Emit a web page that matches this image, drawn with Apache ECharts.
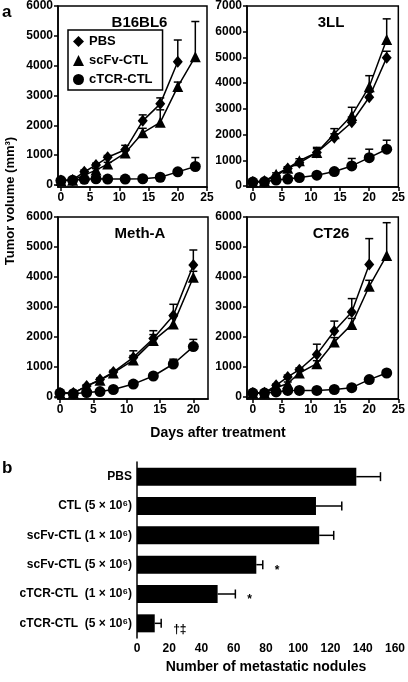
<!DOCTYPE html>
<html>
<head>
<meta charset="utf-8">
<script src="https://cdn.jsdelivr.net/npm/echarts@6/dist/echarts.min.js"></script>
<style>
html,body{margin:0;padding:0;background:#fff;}
#chart{width:408px;height:682px;}
</style>
</head>
<body>
<div id="chart"></div>
<script>
// ---------- DATA ----------
const days = [0, 2, 4, 6, 8, 11, 14, 17, 20, 23];
const seriesNames = ['PBS', 'scFv-CTL', 'cTCR-CTL'];
const panelTitles = ['B16BL6', '3LL', 'Meth-A', 'CT26'];

// B16BL6
const b16_pbs  = [150, 170, 440, 670, 930, 1180, 2150, 2720, 4130, null];
const b16_scfv = [150, 160, 330, 500, 700, 1070, 1750, 2100, 3300, 4300];
const b16_ctcr = [150, 160, 190, 210, 200, 200, 210, 260, 440, 620];
const b16_pbsErr  = [0, 20, 60, 60, 60, 150, 200, 200, 730, null];
const b16_scfvErr = [0, 20, 40, 50, 60, 100, 150, 420, 150, 1180];
const b16_ctcrErr = [0, 0, 20, 20, 20, 20, 30, 40, 60, 300];

// 3LL
const ll_pbs  = [150, 180, 390, 680, 900, 1300, 1880, 2480, 3450, 4990];
const ll_scfv = [150, 190, 460, 690, 980, 1300, 2030, 2740, 3860, 5700];
const ll_ctcr = [150, 160, 230, 270, 330, 420, 560, 780, 1100, 1430];
const ll_pbsErr  = [0, 20, 40, 60, 60, 150, 150, 200, 200, 250];
const ll_scfvErr = [0, 20, 50, 60, 80, 200, 200, 320, 430, 800];
const ll_ctcrErr = [0, 0, 30, 30, 40, 60, 80, 290, 330, 350];

// Meth-A (to day 20)
const meth_pbs  = [130, 130, 370, 580, 830, 1320, 1950, 2720, 4400, null];
const meth_scfv = [130, 130, 360, 560, 800, 1230, 1880, 2430, 3990, null];
const meth_ctcr = [130, 110, 150, 180, 250, 430, 700, 1100, 1680, null];
const meth_pbsErr  = [0, 20, 40, 50, 60, 220, 260, 370, 500, null];
const meth_scfvErr = [0, 20, 40, 50, 60, 150, 200, 250, 200, null];
const meth_ctcrErr = [0, 0, 20, 20, 30, 40, 50, 160, 240, null];

// CT26
const ct_pbs  = [130, 140, 390, 670, 910, 1420, 2200, 2830, 4420, null];
const ct_scfv = [130, 130, 310, 450, 800, 1110, 1830, 2420, 3690, 4720];
const ct_ctcr = [130, 130, 170, 220, 220, 220, 250, 310, 580, 800];
const ct_pbsErr  = [0, 20, 40, 60, 60, 340, 330, 450, 860, null];
const ct_scfvErr = [0, 20, 30, 50, 60, 100, 150, 200, 200, 1090];
const ct_ctcrErr = [0, 0, 20, 20, 20, 20, 30, 40, 60, 100];

// tick labels
const yTicks6000 = [0, 1000, 2000, 3000, 4000, 5000, 6000];
const yTicks7000 = [0, 1000, 2000, 3000, 4000, 5000, 6000, 7000];
const xTicks25 = [0, 5, 10, 15, 20, 25];
const xTicks20 = [0, 5, 10, 15, 20];

// Panel b
const barCats = ['PBS', 'CTL (5 \u00d7 10\u2076)', 'scFv-CTL (1 \u00d7 10\u2076)', 'scFv-CTL (5 \u00d7 10\u2076)', 'cTCR-CTL  (1 \u00d7 10\u2076)', 'cTCR-CTL  (5 \u00d7 10\u2076)'];
const barVals = [136, 111, 113, 74, 50, 11];
const barErr  = [15, 16, 9, 4, 11, 4];
const sigMarks = ['', '', '', '*', '*', '\u2020\u2021'];

// ---------- BUILD ----------
const FONT = "'Liberation Sans', Arial, Helvetica, sans-serif";
const BLACK = '#000';

function pairs(vals) {
  const out = [];
  days.forEach((d, i) => { if (vals[i] != null) out.push([d, vals[i]]); });
  return out;
}
function errTriples(vals, errs) {
  const out = [];
  days.forEach((d, i) => { if (vals[i] != null && errs[i]) out.push([d, vals[i], errs[i]]); });
  return out;
}

const panels = [
  {vals: [b16_pbs, b16_scfv, b16_ctcr], errs: [b16_pbsErr, b16_scfvErr, b16_ctcrErr]},
  {vals: [ll_pbs, ll_scfv, ll_ctcr], errs: [ll_pbsErr, ll_scfvErr, ll_ctcrErr]},
  {vals: [meth_pbs, meth_scfv, meth_ctcr], errs: [meth_pbsErr, meth_scfvErr, meth_ctcrErr]},
  {vals: [ct_pbs, ct_scfv, ct_ctcr], errs: [ct_pbsErr, ct_scfvErr, ct_ctcrErr]}
];

const gridLayout = [
  {left: 58, top: 6, width: 149, height: 181},
  {left: 247, top: 6, width: 154, height: 181},
  {left: 58, top: 217, width: 150, height: 182},
  {left: 247, top: 217, width: 154, height: 182}
];
const xRanges = [[-0.5, 25, xTicks25], [-1, 25, xTicks25], [-0.3, 22.2, xTicks20], [-1, 25, xTicks25]];
const yRanges = [[-67, 6000, yTicks6000], [-40, 7000, yTicks7000], [-67, 6000, yTicks6000], [-67, 6000, yTicks6000]];

const symbols = ['diamond', 'triangle', 'circle'];
const symSizes = [[10, 12], 11, 11];

const grids = [], xAxes = [], yAxes = [], series = [], titles = [];

const axisLabelStyle = {color: BLACK, fontFamily: FONT, fontWeight: 'bold', fontSize: 12, formatter: v => String(v)};

panels.forEach((p, k) => {
  grids.push(Object.assign({show: true, borderColor: BLACK, borderWidth: 1.5, backgroundColor: 'transparent'}, gridLayout[k]));
  xAxes.push({
    type: 'value', gridIndex: k, min: xRanges[k][0], max: xRanges[k][1],
    splitLine: {show: false},
    axisLine: {onZero: false, lineStyle: {color: BLACK, width: 1.5}},
    axisTick: {length: 4, lineStyle: {color: BLACK, width: 1.5}, customValues: xRanges[k][2]},
    axisLabel: Object.assign({margin: 5, customValues: xRanges[k][2]}, axisLabelStyle)
  });
  yAxes.push({
    type: 'value', gridIndex: k, min: yRanges[k][0], max: yRanges[k][1],
    splitLine: {show: false},
    axisLine: {onZero: false, lineStyle: {color: BLACK, width: 1.5}},
    axisTick: {length: 4, lineStyle: {color: BLACK, width: 1.5}, customValues: yRanges[k][2]},
    axisLabel: Object.assign({margin: 5, customValues: yRanges[k][2]}, axisLabelStyle)
  });
  titles.push({
    text: panelTitles[k],
    left: gridLayout[k].left + gridLayout[k].width / 2 + 2, top: gridLayout[k].top + 4,
    textAlign: 'center',
    textStyle: {fontFamily: FONT, fontWeight: 'bold', fontSize: 15, color: BLACK}
  });
  for (let s = 0; s < 3; s++) {
    series.push({
      type: 'line', name: seriesNames[s], xAxisIndex: k, yAxisIndex: k,
      data: pairs(p.vals[s]), symbol: symbols[s], symbolSize: symSizes[s],
      showAllSymbol: true, z: 3, color: BLACK,
      lineStyle: {color: BLACK, width: 1.5}, itemStyle: {color: BLACK, opacity: 1}
    });
    series.push({
      type: 'custom', xAxisIndex: k, yAxisIndex: k,
      data: errTriples(p.vals[s], p.errs[s]), z: 1, silent: true,
      encode: {x: 0, y: 1},
      renderItem: function (params, api) {
        const x = api.value(0), v = api.value(1), e = api.value(2);
        const a = api.coord([x, v]), b = api.coord([x, v + e]);
        const st = {stroke: BLACK, lineWidth: 1.5};
        return {type: 'group', children: [
          {type: 'line', shape: {x1: a[0], y1: a[1], x2: b[0], y2: b[1]}, style: st},
          {type: 'line', shape: {x1: b[0] - 4, y1: b[1], x2: b[0] + 4, y2: b[1]}, style: st}
        ]};
      }
    });
  }
});

// Panel b grid/axes
grids.push({left: 137, top: 462, width: 260, height: 176});
xAxes.push({
  type: 'value', gridIndex: 4, min: 0, max: 160, interval: 20,
  splitLine: {show: false},
  axisLine: {onZero: false, lineStyle: {color: BLACK, width: 1.5}},
  axisTick: {length: 4, lineStyle: {color: BLACK, width: 1.5}},
  axisLabel: Object.assign({margin: 5}, axisLabelStyle),
  name: 'Number of metastatic nodules', nameLocation: 'middle', nameGap: 22,
  nameTextStyle: {fontFamily: FONT, fontWeight: 'bold', fontSize: 14, color: BLACK}
});
yAxes.push({
  type: 'category', gridIndex: 4, data: barCats, inverse: true,
  axisLine: {onZero: false, lineStyle: {color: BLACK, width: 1.5}},
  axisTick: {length: 4, lineStyle: {color: BLACK, width: 1.5}},
  axisLabel: {margin: 5, color: BLACK, fontFamily: FONT, fontWeight: 'bold', fontSize: 12}
});
series.push({
  type: 'bar', xAxisIndex: 4, yAxisIndex: 4, data: barVals, barWidth: 18,
  itemStyle: {color: BLACK}, z: 2
});
series.push({
  type: 'custom', xAxisIndex: 4, yAxisIndex: 4, z: 3, silent: true,
  data: barVals.map((v, i) => [v, i, barErr[i]]),
  encode: {x: 0, y: 1},
  renderItem: function (params, api) {
    const v = api.value(0), c = api.value(1), e = api.value(2);
    const a = api.coord([v, c]), b = api.coord([v + e, c]);
    const st = {stroke: BLACK, lineWidth: 1.5};
    const children = [
      {type: 'line', shape: {x1: a[0], y1: a[1], x2: b[0], y2: b[1]}, style: st},
      {type: 'line', shape: {x1: b[0], y1: b[1] - 4.5, x2: b[0], y2: b[1] + 4.5}, style: st}
    ];
    const m = sigMarks[params.dataIndex];
    if (m) {
      children.push({type: 'text', x: b[0] + 12, y: b[1] + 6,
        style: {text: m, fill: BLACK, font: 'bold 12px ' + FONT, align: 'left', verticalAlign: 'middle'}});
    }
    return {type: 'group', children: children};
  }
});

const option = {
  animation: false,
  backgroundColor: '#fff',
  color: [BLACK],
  title: titles,
  legend: {
    data: [{name: 'PBS', icon: 'diamond'}, {name: 'scFv-CTL', icon: 'triangle'}, {name: 'cTCR-CTL', icon: 'circle'}],
    orient: 'vertical', left: 68, top: 30,
    borderColor: BLACK, borderWidth: 1.5, padding: [5, 10, 4, 5],
    itemWidth: 11, itemHeight: 11, itemGap: 6,
    selectedMode: false,
    itemStyle: {color: BLACK},
    textStyle: {fontFamily: FONT, fontWeight: 'bold', fontSize: 13, color: BLACK}
  },
  grid: grids,
  xAxis: xAxes,
  yAxis: yAxes,
  series: series,
  graphic: [
    {type: 'text', x: 2, y: 4, style: {text: 'a', font: 'bold 17px ' + FONT, fill: BLACK}},
    {type: 'text', x: 2, y: 460, style: {text: 'b', font: 'bold 17px ' + FONT, fill: BLACK}},
    {type: 'text', x: 10, y: 201, rotation: Math.PI / 2,
      style: {text: 'Tumor volume (mm\u00b3)', font: 'bold 13px ' + FONT, fill: BLACK, align: 'center', verticalAlign: 'middle'}},
    {type: 'text', x: 218, y: 433,
      style: {text: 'Days after treatment', font: 'bold 14px ' + FONT, fill: BLACK, align: 'center', verticalAlign: 'middle'}}
  ]
};

const chart = echarts.init(document.getElementById('chart'), null, {renderer: 'canvas'});
chart.setOption(option);
</script>
</body>
</html>
